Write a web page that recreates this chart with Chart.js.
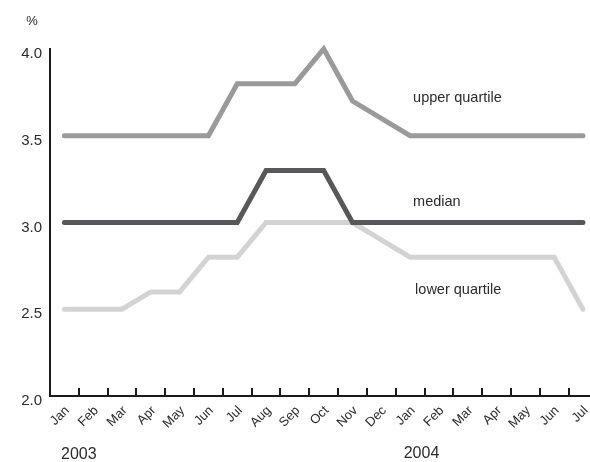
<!DOCTYPE html>
<html>
<head>
<meta charset="utf-8">
<script src="https://cdn.jsdelivr.net/npm/chart.js@4/dist/chart.umd.min.js"></script>
<style>
  html, body { margin: 0; padding: 0; background: #fff; overflow: hidden; }
  #wrap { position: relative; width: 609px; height: 462px; }
</style>
</head>
<body>
<div id="wrap"><canvas id="c"></canvas></div>
<script>
const categories = ['Jan','Feb','Mar','Apr','May','Jun','Jul','Aug','Sep','Oct','Nov','Dec',
                    'Jan','Feb','Mar','Apr','May','Jun','Jul'];
const years = ['2003', '2004'];
const upperQuartile = [3.5,3.5,3.5,3.5,3.5,3.5,3.8,3.8,3.8,4.0,3.7,3.6,3.5,3.5,3.5,3.5,3.5,3.5,3.5];
const median        = [3.0,3.0,3.0,3.0,3.0,3.0,3.0,3.3,3.3,3.3,3.0,3.0,3.0,3.0,3.0,3.0,3.0,3.0,3.0];
const lowerQuartile = [2.5,2.5,2.5,2.6,2.6,2.8,2.8,3.0,3.0,3.0,3.0,2.9,2.8,2.8,2.8,2.8,2.8,2.8,2.5];
const yTicks = [2.0, 2.5, 3.0, 3.5, 4.0];
const seriesNames = ['median', 'upper quartile', 'lower quartile'];

const FONT = '"Liberation Sans", Arial, Helvetica, sans-serif';
const TEXT = '#2b2b2b';

const annotations = {
  id: 'annotations',
  afterDraw(chart) {
    const ctx = chart.ctx;
    const x = chart.scales.x, y = chart.scales.y;
    ctx.save();
    ctx.fillStyle = TEXT;
    // unit
    ctx.font = '13px ' + FONT;
    ctx.textAlign = 'center';
    ctx.textBaseline = 'middle';
    ctx.fillText('%', 32, chart.chartArea.top - 28);
    // years
    ctx.font = '16px ' + FONT;
    ctx.fillText(years[0], x.getPixelForValue(0.5), 455);
    ctx.fillText(years[1], x.getPixelForValue(12.5) - 3, 454);
    // series labels
    ctx.font = '14.5px ' + FONT;
    ctx.textAlign = 'left';
    const lx = x.getPixelForValue(12) + 3;
    ctx.fillText(seriesNames[1], lx, y.getPixelForValue(3.72));
    ctx.fillText(seriesNames[0], lx, y.getPixelForValue(3.12));
    ctx.fillText(seriesNames[2], lx + 2, y.getPixelForValue(2.61));
    ctx.restore();
  }
};

function ds(label, data, color) {
  return {
    label, data,
    borderColor: color,
    backgroundColor: color,
    borderWidth: 5,
    borderCapStyle: 'round',
    borderJoinStyle: 'miter',
    pointRadius: 0,
    tension: 0,
    clip: false,
    fill: false
  };
}

new Chart(document.getElementById('c'), {
  type: 'line',
  data: {
    labels: categories,
    datasets: [
      ds(seriesNames[0], median, '#58585a'),
      ds(seriesNames[1], upperQuartile, '#9a9a9c'),
      ds(seriesNames[2], lowerQuartile, '#d3d3d3')
    ]
  },
  options: {
    responsive: true,
    maintainAspectRatio: false,
    animation: false,
    events: [],
    layout: { padding: { top: 49, right: 0, left: 0, bottom: 0 } },
    plugins: { legend: { display: false }, tooltip: { enabled: false } },
    scales: {
      x: {
        type: 'category',
        offset: true,
        afterFit(s) { s.height = 66; },
        grid: { offset: true, drawOnChartArea: false, drawTicks: true, tickLength: -8, color: '#1a1a1a', lineWidth: 2 },
        border: { display: true, color: '#1a1a1a', width: 2 },
        ticks: {
          autoSkip: false, minRotation: 45, maxRotation: 45,
          padding: 15, labelOffset: 3,
          color: TEXT, font: { family: FONT, size: 13 }
        }
      },
      y: {
        min: 2.0, max: 4.0,
        afterFit(s) { s.width = 50; },
        afterBuildTicks(s) { s.ticks = yTicks.map(v => ({ value: v })); },
        grid: { display: true, drawOnChartArea: false, drawTicks: false },
        border: { display: true, color: '#1a1a1a', width: 2 },
        ticks: {
          padding: 8, labelOffset: 5,
          color: TEXT, font: { family: FONT, size: 15 },
          callback: v => v.toFixed(1)
        }
      }
    }
  },
  plugins: [annotations]
});
</script>
</body>
</html>
